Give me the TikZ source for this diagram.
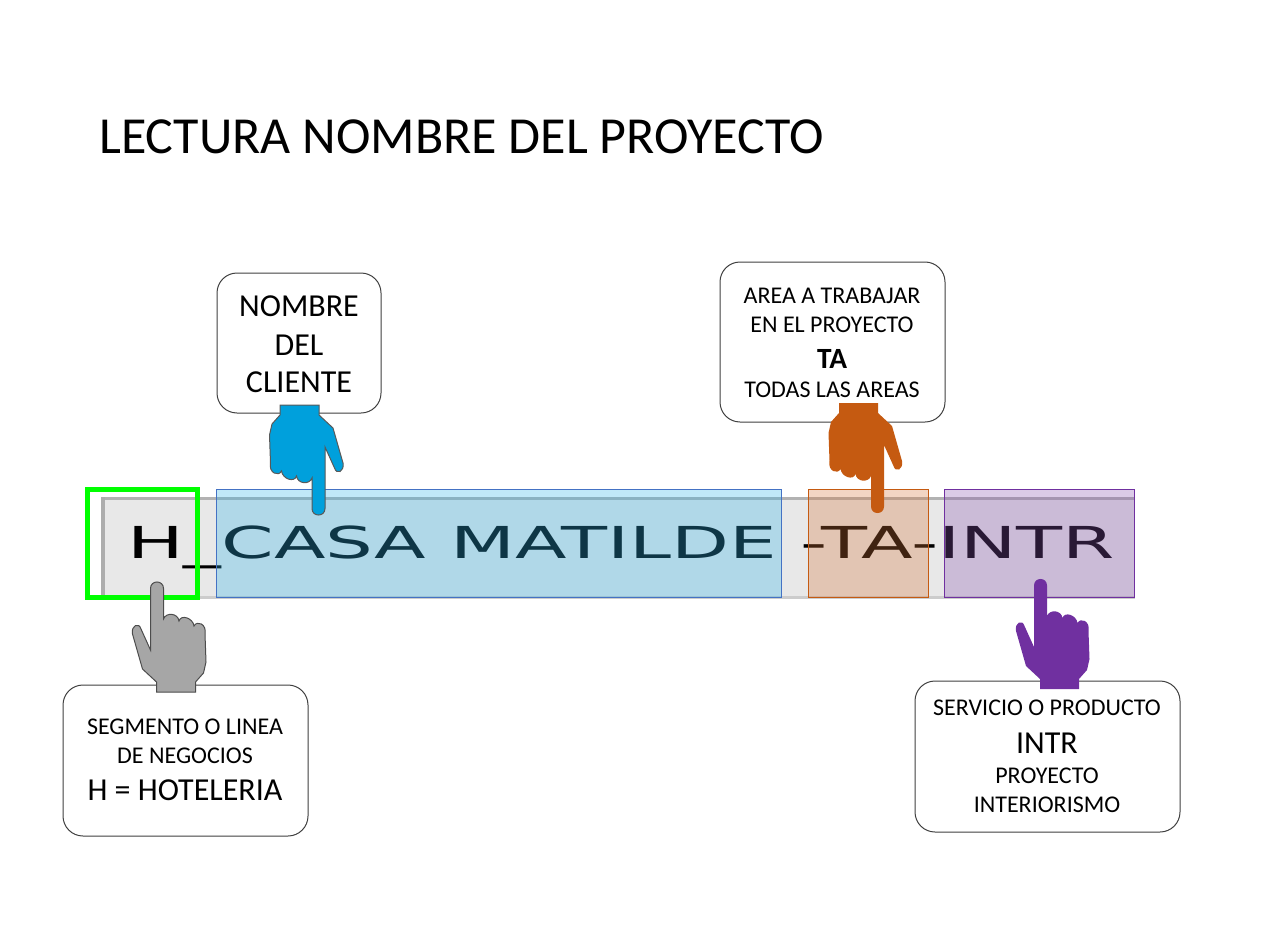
\documentclass[tikz,border=0pt]{standalone}
\usepackage{fontspec}
\setmainfont{Carlito}
\newfontfamily\barfont{DejaVu Sans}
\definecolor{barfill}{RGB}{232,232,232}
\definecolor{clienteblue}{RGB}{47,180,233}
\definecolor{edgeblue}{RGB}{68,114,196}
\definecolor{handblue}{RGB}{0,160,220}
\definecolor{areaorange}{RGB}{213,117,57}
\definecolor{handorange}{RGB}{197,90,17}
\definecolor{servpurple}{RGB}{137,83,177}
\definecolor{handpurple}{RGB}{112,48,160}
\definecolor{linegreen}{RGB}{0,255,0}
\tikzset{
  callout/.style={draw=black!75, fill=white, line width=0.75pt, rounded corners=15pt},
  small/.style={anchor=base, inner sep=0pt, font=\fontsize{18}{22}\selectfont},
  big/.style={anchor=base, inner sep=0pt, font=\fontsize{24}{29}\selectfont},
  pics/hand/.style={code={
    \path[pic actions] (-6.5,-6.5) -- (-6.5,-37)
      .. controls (-9,-30) and (-21,-31) .. (-22,-39)
      .. controls (-24,-32) and (-36,-36) .. (-37,-44)
      .. controls (-40,-38) and (-50,-42) .. (-48,-52)
      -- (-49,-80) -- (-46.5,-91) -- (-38.5,-100) -- (-38.5,-110) -- (0.5,-110)
      -- (0.5,-100) -- (14.5,-87) -- (24.5,-52)
      .. controls (26,-43) and (18,-40) .. (16,-47)
      -- (6.5,-68) -- (6.5,-6.5)
      .. controls (6.5,2.2) and (-6.5,2.2) .. cycle;
  }}
}
\begin{document}
\begin{tikzpicture}[x=0.75pt, y=-0.75pt]
	\useasboundingbox (0,0) rectangle (1280,945);
	\node[anchor=base west, inner sep=0pt, font=\fontsize{39}{47}\selectfont] (titulo) at (99,154) {LECTURA NOMBRE DEL PROYECTO};
	% callouts
	\draw[callout] (217,273) rectangle (381,413);
	\node[big] (cli1) at (299,316) {NOMBRE};
	\node[big] (cli2) at (299,355) {DEL};
	\node[big] (cli3) at (299,392) {CLIENTE};
	\draw[callout] (720,262) rectangle (945,422);
	\node[small] (area1) at (832,303) {AREA A TRABAJAR};
	\node[small] (area2) at (832,332) {EN EL PROYECTO};
	\node[anchor=base, inner sep=0pt, font=\fontsize{22}{26}\selectfont\bfseries] (area3) at (832,368) {TA};
	\node[small] (area4) at (832,397) {TODAS LAS AREAS};
	\draw[callout] (63,685) rectangle (308,836);
	\node[small] (seg1) at (185,734) {SEGMENTO O LINEA};
	\node[small] (seg2) at (185,763) {DE NEGOCIOS};
	\node[big] (seg3) at (185,800) {H = HOTELERIA};
	\draw[callout] (915,681) rectangle (1180,832);
	\node[small] (serv1) at (1047,715) {SERVICIO O PRODUCTO};
	\node[big] (serv2) at (1047,753) {INTR};
	\node[small] (serv3) at (1047,783) {PROYECTO};
	\node[small] (serv4) at (1047,812) {INTERIORISMO};
	% project name bar
	\fill[barfill] (101,497) rectangle (1135,599);
	\fill[black!30] (101,497) rectangle (1135,500);
	\fill[black!20] (101,596) rectangle (1135,599);
	\fill[black!32] (101,497) rectangle (105,599);
	\node[anchor=base west, inner sep=0pt] (nombre) at (127,558) {\scalebox{1.712}[1]{\barfont\fontsize{33}{40}\selectfont H\_CASA MATILDE -TA-INTR}};
	\draw[draw=edgeblue, fill=clienteblue, fill opacity=0.3] (216,489) rectangle (781,597);
	\draw[draw=handorange, fill=areaorange, fill opacity=0.3] (808,489) rectangle (928,597);
	\draw[draw=handpurple, fill=servpurple, fill opacity=0.3] (944,489) rectangle (1134,597);
	\draw[linegreen, line width=3.75pt] (87.5,489.5) rectangle (197.5,597.5);
	% hands
	\pic[fill=handblue, draw=black!65, line width=0.75pt] at (318.5,515) {hand};
	\pic[fill=handorange] at (877.5,513) {hand};
	\pic[fill=black!35, draw=black!70, line width=0.75pt, rotate=180] at (157,582) {hand};
	\pic[fill=handpurple, rotate=180] at (1040.5,579) {hand};
\end{tikzpicture}
\end{document}
